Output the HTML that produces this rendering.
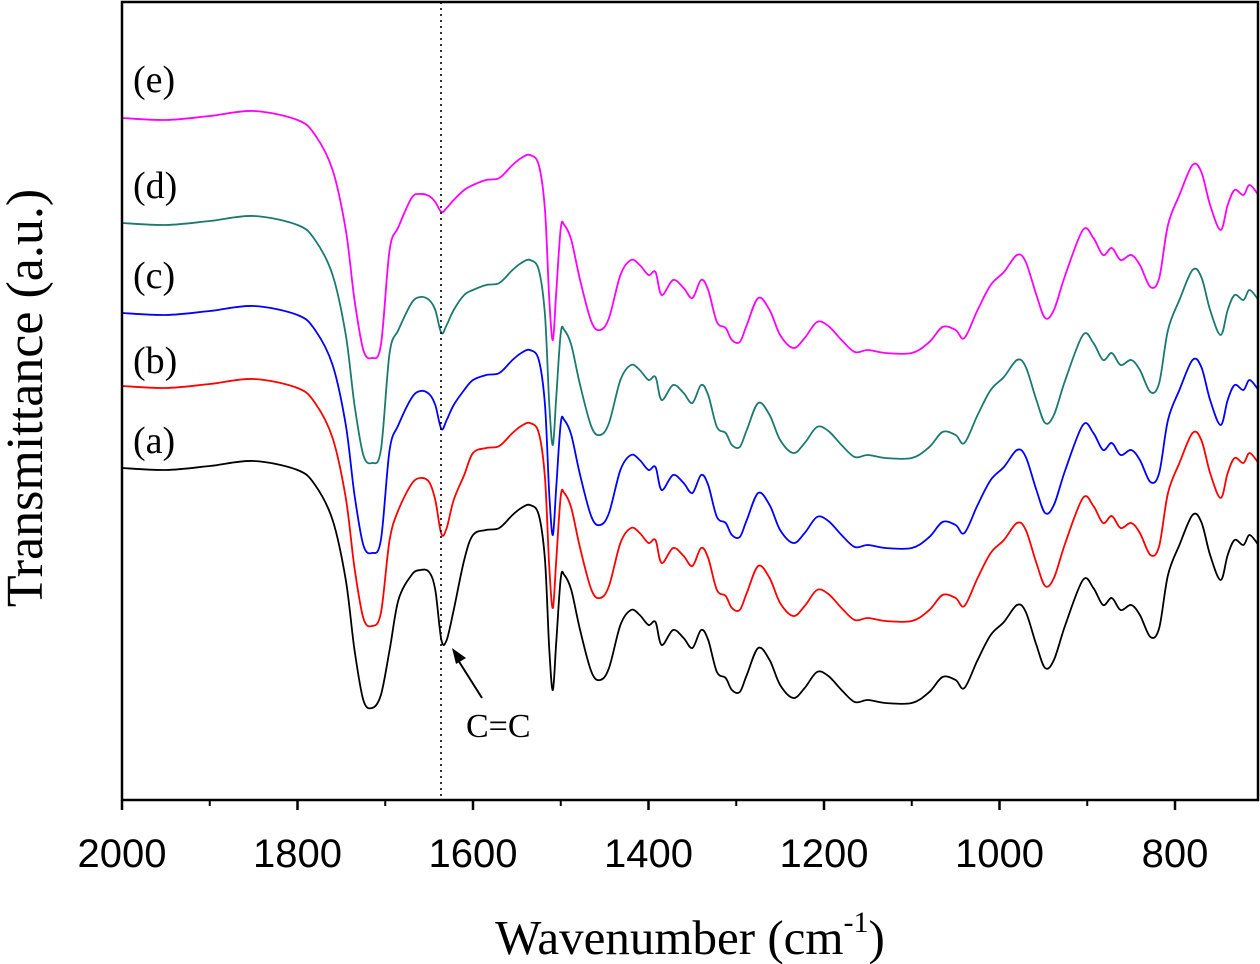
<!DOCTYPE html>
<html><head><meta charset="utf-8"><style>
body{margin:0;background:#fff;}
svg{display:block;font-family:"Liberation Serif",serif;}
</style></head><body>
<svg id="chart" width="1260" height="964" viewBox="0 0 1260 964" xmlns="http://www.w3.org/2000/svg">
<g id="series"></g>
<line x1="441" y1="2" x2="441" y2="800" stroke="#000" stroke-width="1.6" stroke-dasharray="2,4"/>
<g id="axes"></g>
<text x="690" y="954" font-size="49" text-anchor="middle">Wavenumber (cm<tspan font-size="30" dy="-22">-1</tspan><tspan dy="22">)</tspan></text>
<text transform="translate(42,398) rotate(-90)" font-size="52" text-anchor="middle">Transmittance (a.u.)</text>
<text x="133" y="92" font-size="38">(e)</text>
<text x="133" y="198" font-size="38">(d)</text>
<text x="133" y="288" font-size="38">(c)</text>
<text x="133" y="373" font-size="38">(b)</text>
<text x="133" y="453" font-size="38">(a)</text>
<line x1="482" y1="698" x2="458" y2="660" stroke="#000" stroke-width="2"/>
<polygon points="452,648 466,658 456,664" fill="#000"/>
<text x="466" y="737" font-size="34">C=C</text>
</svg>
<script>
const wavenumbers=[2000,1950,1900,1850,1800,1780,1760,1745,1735,1725,1715,1705,1695,1685,1670,1660,1650,1643,1636,1630,1622,1610,1600,1585,1570,1555,1545,1535,1525,1518,1513,1509,1505,1500,1496,1488,1478,1465,1455,1445,1432,1420,1410,1400,1392,1385,1372,1360,1350,1340,1332,1322,1312,1305,1296,1288,1275,1262,1250,1235,1222,1208,1195,1180,1165,1150,1130,1100,1080,1065,1050,1040,1025,1010,995,980,970,958,948,938,925,905,893,882,872,862,850,840,828,818,808,795,780,770,760,748,740,732,722,715,705];
const seriesA=[332,330,334,339,330,315,280,220,150,100,92,105,150,200,225,230,228,210,160,160,190,240,265,270,272,285,292,295,285,240,150,110,160,222,225,210,170,128,120,132,175,190,185,175,178,155,170,162,152,170,160,128,122,110,108,125,152,140,115,102,112,128,124,110,98,100,97,97,108,123,120,112,140,165,178,195,188,155,132,140,175,220,212,195,202,190,195,185,163,172,225,255,285,278,245,220,245,260,255,265,255];
const seriesB=[414,412,416,421,412,397,362,302,232,182,174,187,260,290,316,322,318,300,266,272,300,325,347,352,354,367,374,377,367,322,232,192,242,304,307,292,252,210,202,214,257,272,267,257,260,237,252,244,234,252,242,210,204,192,190,207,234,222,197,184,194,210,206,192,180,182,179,179,190,205,202,194,222,247,260,277,270,237,214,222,257,302,294,277,284,272,277,267,245,254,307,337,367,360,327,302,327,342,337,347,337];
const seriesC=[487,485,489,494,485,470,435,375,305,255,247,260,350,375,402,409,406,395,371,380,395,410,420,425,427,440,447,450,440,395,305,265,315,377,380,365,325,283,275,287,330,345,340,330,333,310,325,317,307,325,315,283,277,265,263,280,307,295,270,257,267,283,279,265,253,255,252,252,263,278,275,267,295,320,333,350,343,310,287,295,330,375,367,350,357,345,350,340,318,327,380,410,440,433,400,375,400,415,410,420,410];
const seriesD=[577,575,579,584,575,560,525,465,395,345,337,350,447,470,497,503,500,490,467,475,490,505,510,515,517,530,537,540,530,485,395,355,405,467,470,455,415,373,365,377,420,435,430,420,423,400,415,407,397,415,405,373,367,355,353,370,397,385,360,347,357,373,369,355,343,345,342,342,353,368,365,357,385,410,423,440,433,400,377,385,420,465,457,440,447,435,440,430,408,417,470,500,530,523,490,465,490,505,500,510,500];
const seriesE=[682,680,684,689,680,665,630,570,500,450,442,455,550,573,602,606,604,598,588,592,600,610,615,620,622,635,642,645,635,590,500,460,510,572,575,560,520,478,470,482,525,540,535,525,528,505,520,512,502,520,510,478,472,460,458,475,502,490,465,452,462,478,474,460,448,450,447,447,458,473,470,462,490,515,528,545,538,505,482,490,525,570,562,545,552,540,545,535,513,522,575,605,635,628,595,570,595,610,605,615,605];
const seriesNames=['a','b','c','d','e'];
const seriesColors=['#000000','#ff0000','#0000ff','#1a7a6e','#ff00ff'];
const xTickLabels=[2000,1800,1600,1400,1200,1000,800];
const xMinorTicks=[1900,1700,1500,1300,1100,900,700];

const X0=122,X1=1258,Y0=2,Y1=800;
function xScale(w){return X0+(2000-w)*175.5/200;}
function yScale(v){return 800-v;}
const NS='http://www.w3.org/2000/svg';
const gS=document.getElementById('series');
[seriesA,seriesB,seriesC,seriesD,seriesE].forEach((s,i)=>{
  const pts=[];
  for(let k=0;k<wavenumbers.length&&k<s.length;k++)pts.push([xScale(wavenumbers[k]),yScale(s[k])]);
  let d='M'+pts[0][0].toFixed(1)+','+pts[0][1].toFixed(1);
  for(let k=0;k<pts.length-1;k++){
    const p0=pts[Math.max(0,k-1)],p1=pts[k],p2=pts[k+1],p3=pts[Math.min(pts.length-1,k+2)];
    const c1x=p1[0]+(p2[0]-p0[0])/6,c1y=p1[1]+(p2[1]-p0[1])/6;
    const c2x=p2[0]-(p3[0]-p1[0])/6,c2y=p2[1]-(p3[1]-p1[1])/6;
    d+='C'+c1x.toFixed(1)+','+c1y.toFixed(1)+' '+c2x.toFixed(1)+','+c2y.toFixed(1)+' '+p2[0].toFixed(1)+','+p2[1].toFixed(1);
  }
  const p=document.createElementNS(NS,'path');
  p.setAttribute('d',d);
  p.setAttribute('fill','none');
  p.setAttribute('stroke',seriesColors[i]);
  p.setAttribute('stroke-width','1.8');
  p.setAttribute('stroke-linejoin','round');
  
  
  gS.appendChild(p);
});
const gA=document.getElementById('axes');
const fr=document.createElementNS(NS,'rect');
fr.setAttribute('x',X0);fr.setAttribute('y',Y0);fr.setAttribute('width',X1-X0);fr.setAttribute('height',Y1-Y0);
fr.setAttribute('fill','none');fr.setAttribute('stroke','#000');fr.setAttribute('stroke-width','2.5');


gA.appendChild(fr);
xTickLabels.forEach(w=>{
  const x=xScale(w);
  const t=document.createElementNS(NS,'line');
  t.setAttribute('x1',x);t.setAttribute('x2',x);t.setAttribute('y1',Y1);t.setAttribute('y2',Y1+10);
  t.setAttribute('stroke','#000');t.setAttribute('stroke-width','2.5');
  
  
  gA.appendChild(t);
  const l=document.createElementNS(NS,'text');
  l.setAttribute('x',x);l.setAttribute('y',867);l.setAttribute('font-size','40');l.setAttribute('text-anchor','middle');
  l.setAttribute('font-family','"Liberation Sans",sans-serif');
  l.textContent=w;
  
  
  gA.appendChild(l);
});
xMinorTicks.forEach(w=>{
  const x=xScale(w);
  if(x>X1)return;
  const t=document.createElementNS(NS,'line');
  t.setAttribute('x1',x);t.setAttribute('x2',x);t.setAttribute('y1',Y1);t.setAttribute('y2',Y1+6);
  t.setAttribute('stroke','#000');t.setAttribute('stroke-width','2');
  
  
  gA.appendChild(t);
});
</script>
</body></html>
